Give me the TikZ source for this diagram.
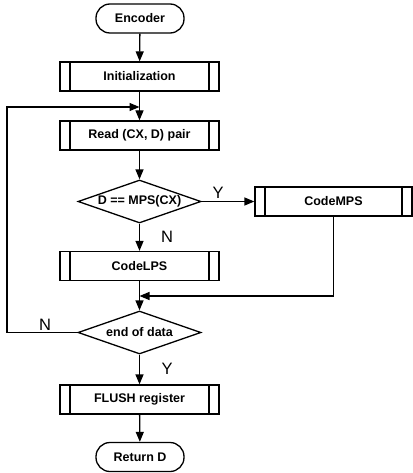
\documentclass[tikz,border=0pt]{standalone}
\usepackage{fontspec}
\setmainfont{Liberation Sans}
\usetikzlibrary{arrows.meta,shapes.geometric}

\tikzset{
	term/.style={draw, line width=1.3pt, rounded corners=14pt, minimum width=88pt, minimum height=29pt, inner sep=0pt, font=\bfseries\fontsize{12.5}{14}\selectfont},
	proc/.style={draw, line width=1.3pt, minimum width=#1, minimum height=29pt, inner sep=0pt, font=\bfseries\fontsize{12.5}{14}\selectfont,
		path picture={
			\draw[line width=1.3pt] ([xshift=10pt]path picture bounding box.north west) -- ([xshift=10pt]path picture bounding box.south west);
			\draw[line width=1.3pt] ([xshift=-10pt]path picture bounding box.north east) -- ([xshift=-10pt]path picture bounding box.south east);
		}},
	proc/.default=159pt,
	test/.style={draw, diamond, line width=1.3pt, aspect=2.86, minimum width=123pt, minimum height=43pt, inner sep=0pt, font=\bfseries\fontsize{12.5}{14}\selectfont},
	flow/.style={line width=1.3pt, -{Triangle[length=10pt,width=8pt]}},
	yn/.style={font=\fontsize{16.5}{18}\selectfont, inner sep=0pt}
}

\begin{document}
\begin{tikzpicture}[x=1pt,y=-1pt]
				\useasboundingbox (0,0) rectangle (412,473);
				
				\node[term] (enc) at (140,18.5) {Encoder};
				\node[proc] (init) at (139.5,76.5) {Initialization};
				\node[proc] (read) at (139.5,135.5) {Read (CX, D) pair};
				\node[test] (mpstest) at (139.5,201.5) {D == MPS(CX)};
				\node[proc=157pt] (mps) at (333.5,201.5) {CodeMPS};
				\node[proc] (lps) at (139.5,266) {CodeLPS};
				\node[test] (endtest) at (139.5,332.5) {end of data};
				\node[proc] (flush) at (139.5,399.5) {FLUSH register};
				\node[term] (ret) at (140,457) {Return D};
				
				\coordinate (merge) at (139.5,296);
				\coordinate (back) at (139.5,107);
				\coordinate (loop) at (7,332.5);
				
				\draw[flow] (enc) -- (init);
				\draw[flow] (init) -- (read);
				\draw[flow] (read) -- (mpstest);
				\draw[flow] (mpstest) -- (mps);
				\draw[flow] (mpstest) -- (lps);
				\draw[flow] (lps) -- (endtest);
				\draw[flow] (mps.south) -- (mps.south |- merge) -- (merge);
				\draw[flow] (endtest.west) -- (loop) -- (loop |- back) -- (back);
				\draw[flow] (endtest) -- (flush);
				\draw[flow] (flush) -- (ret);
				
				\node[yn] (y1) at (218,193) {Y};
				\node[yn] (n1) at (167,237) {N};
				\node[yn] (n2) at (45,325) {N};
				\node[yn] (y2) at (167,369) {Y};
			\end{tikzpicture}
\end{document}
